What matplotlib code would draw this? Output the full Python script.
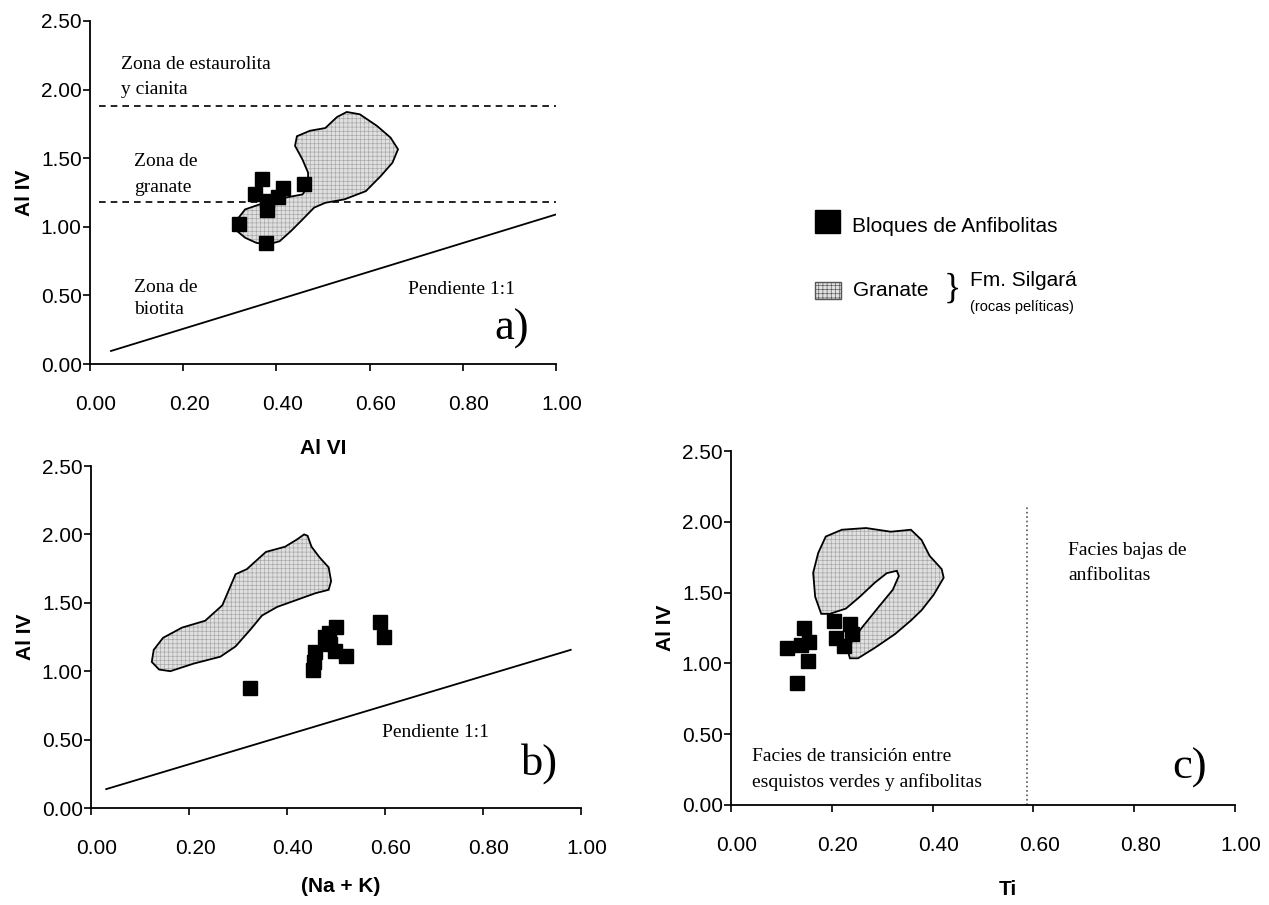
import matplotlib.pyplot as plt
from matplotlib.patches import Polygon, Rectangle
from matplotlib.transforms import ScaledTranslation

plt.rcParams['font.family'] = ['Liberation Sans', 'DejaVu Sans']
plt.rcParams['hatch.linewidth'] = 0.45

W, H = 1269, 905
SERIF = ['Liberation Serif', 'DejaVu Serif']

# --- a) Al IV vs Al VI ---
a_x = [0.320, 0.377, 0.370, 0.354, 0.379, 0.379, 0.415, 0.404, 0.459]
a_y = [1.02, 0.88, 1.35, 1.24, 1.19, 1.12, 1.28, 1.22, 1.31]
a_granate = [(0.551, 1.837), (0.579, 1.82), (0.616, 1.735), (0.645, 1.65),
             (0.661, 1.565), (0.649, 1.467), (0.624, 1.37), (0.592, 1.26),
             (0.546, 1.20), (0.505, 1.175), (0.481, 1.14), (0.456, 1.053),
             (0.431, 0.968), (0.407, 0.895), (0.382, 0.871), (0.357, 0.883),
             (0.333, 0.92), (0.316, 0.968), (0.315, 1.05), (0.333, 1.127),
             (0.374, 1.175), (0.415, 1.21), (0.456, 1.236), (0.468, 1.297),
             (0.468, 1.394), (0.456, 1.49), (0.44, 1.59), (0.444, 1.66),
             (0.472, 1.70), (0.505, 1.72), (0.530, 1.80)]
a_zonas = [1.88, 1.18]
a_pendiente_x = [0.045, 1.0]
a_pendiente_y = [0.095, 1.09]

# --- b) Al IV vs (Na + K) ---
b_x = [0.325, 0.453, 0.455, 0.457, 0.478, 0.485, 0.500, 0.487, 0.497, 0.520, 0.590, 0.598]
b_y = [0.875, 1.01, 1.07, 1.14, 1.25, 1.28, 1.32, 1.20, 1.15, 1.11, 1.36, 1.25]
b_granate = [(0.128, 1.156), (0.147, 1.244), (0.186, 1.319), (0.233, 1.369),
             (0.268, 1.482), (0.283, 1.608), (0.295, 1.709), (0.318, 1.746),
             (0.357, 1.872), (0.396, 1.91), (0.419, 1.96), (0.435, 2.0),
             (0.442, 1.99), (0.45, 1.91), (0.466, 1.834), (0.485, 1.759),
             (0.49, 1.658), (0.485, 1.595), (0.458, 1.57), (0.419, 1.52),
             (0.38, 1.47), (0.349, 1.407), (0.326, 1.307), (0.295, 1.181),
             (0.264, 1.106), (0.209, 1.055), (0.162, 1.0), (0.139, 1.012),
             (0.124, 1.068)]
b_pendiente_x = [0.031, 0.979]
b_pendiente_y = [0.138, 1.156]

# --- c) Al IV vs Ti ---
c_x = [0.112, 0.145, 0.155, 0.152, 0.130, 0.138, 0.204, 0.236, 0.208, 0.224, 0.240]
c_y = [1.11, 1.25, 1.15, 1.02, 0.86, 1.13, 1.30, 1.28, 1.18, 1.12, 1.21]
c_granate = [(0.179, 1.35), (0.167, 1.47), (0.163, 1.64), (0.173, 1.78),
             (0.188, 1.896), (0.22, 1.944), (0.268, 1.956), (0.317, 1.93),
             (0.357, 1.944), (0.378, 1.872), (0.394, 1.76), (0.418, 1.666),
             (0.422, 1.605), (0.402, 1.484), (0.378, 1.375), (0.357, 1.303),
             (0.325, 1.206), (0.285, 1.109), (0.252, 1.036), (0.236, 1.036),
             (0.232, 1.085), (0.24, 1.157), (0.26, 1.254), (0.293, 1.399),
             (0.321, 1.52), (0.333, 1.617), (0.329, 1.654), (0.309, 1.637),
             (0.285, 1.569), (0.256, 1.472), (0.228, 1.387), (0.196, 1.35)]
c_limite = 0.588

ticks_x = [0.0, 0.2, 0.4, 0.6, 0.8, 1.0]
ticks_y = [0.0, 0.5, 1.0, 1.5, 2.0, 2.5]


def box(px_left, px_top, px_right, px_bottom):
    return [px_left / W, 1 - px_bottom / H, (px_right - px_left) / W, (px_bottom - px_top) / H]


def base_axes(ax, xlabel, label_x=0.5, label_pad=18):
    ax.set_xlim(0, 1)
    ax.set_ylim(0, 2.5)
    ax.set_xticks(ticks_x)
    ax.set_yticks(ticks_y)
    ax.set_xticklabels(['%.2f' % t for t in ticks_x])
    ax.set_yticklabels(['%.2f' % t for t in ticks_y])
    for s in ['top', 'right']:
        ax.spines[s].set_visible(False)
    for s in ['left', 'bottom']:
        ax.spines[s].set_linewidth(1.3)
    ax.tick_params(axis='both', direction='out', length=5, width=1.2, labelsize=15)
    ax.tick_params(axis='y', pad=1)
    ax.tick_params(axis='x', pad=17)
    # x tick labels sit a little to the right of their ticks
    shift = ScaledTranslation(0.06, 0, fig.dpi_scale_trans)
    for lab in ax.get_xticklabels():
        lab.set_transform(lab.get_transform() + shift)
    ax.set_ylabel('Al IV', fontsize=15, fontweight='bold', labelpad=5)
    ax.set_xlabel(xlabel, fontsize=15, fontweight='bold', labelpad=label_pad)
    ax.xaxis.label.set_x(label_x)


def granate(ax, pts):
    ax.add_patch(Polygon(pts, closed=True, facecolor='#e0e0e0', edgecolor='none', zorder=2))
    ax.add_patch(Polygon(pts, closed=True, fill=False, hatch='++++', edgecolor='#a5a5a5',
                         linewidth=0, zorder=2))
    ax.add_patch(Polygon(pts, closed=True, fill=False, edgecolor='black', linewidth=1.3, zorder=3))


def bloques(ax, x, y):
    ax.plot(x, y, 's', color='black', markersize=10.5, linestyle='none', zorder=4)


fig = plt.figure(figsize=(W / 100, H / 100), dpi=100)

# a)
ax = fig.add_axes(box(90, 21, 556, 364))
base_axes(ax, 'Al VI')
for z in a_zonas:
    ax.plot([0.02, 1.0], [z, z], color='black', linestyle=(0, (4, 3)), linewidth=1.2)
ax.plot(a_pendiente_x, a_pendiente_y, color='black', linewidth=1.3)
granate(ax, a_granate)
bloques(ax, a_x, a_y)
ax.text(0.066, 2.185, 'Zona de estaurolita', family=SERIF, fontsize=14, va='center')
ax.text(0.066, 2.00, 'y cianita', family=SERIF, fontsize=14, va='center')
ax.text(0.094, 1.474, 'Zona de', family=SERIF, fontsize=14, va='center')
ax.text(0.094, 1.29, 'granate', family=SERIF, fontsize=14, va='center')
ax.text(0.094, 0.56, 'Zona de', family=SERIF, fontsize=14, va='center')
ax.text(0.094, 0.40, 'biotita', family=SERIF, fontsize=14, va='center')
ax.text(0.682, 0.54, 'Pendiente 1:1', family=SERIF, fontsize=14, va='center')
ax.text(0.867, 0.26, 'a)', family=SERIF, fontsize=32, va='center')

# b)
ax = fig.add_axes(box(91, 466, 581, 808))
base_axes(ax, '(Na + K)', label_x=0.51, label_pad=14)
ax.plot(b_pendiente_x, b_pendiente_y, color='black', linewidth=1.3)
granate(ax, b_granate)
bloques(ax, b_x, b_y)
ax.text(0.594, 0.553, 'Pendiente 1:1', family=SERIF, fontsize=14, va='center')
ax.text(0.878, 0.327, 'b)', family=SERIF, fontsize=32, va='center')

# c)
ax = fig.add_axes(box(731, 451, 1235, 805))
base_axes(ax, 'Ti', label_x=0.55)
ax.plot([c_limite, c_limite], [0, 2.11], color='#555555', linestyle=':', linewidth=1.2)
granate(ax, c_granate)
bloques(ax, c_x, c_y)
ax.text(0.669, 1.80, 'Facies bajas de', family=SERIF, fontsize=14, va='center')
ax.text(0.669, 1.62, 'anfibolitas', family=SERIF, fontsize=14, va='center')
ax.text(0.042, 0.346, 'Facies de transición entre', family=SERIF, fontsize=14, va='center')
ax.text(0.042, 0.165, 'esquistos verdes y anfibolitas', family=SERIF, fontsize=14, va='center')
ax.text(0.875, 0.26, 'c)', family=SERIF, fontsize=32, va='center')

# legend
fig.patches.append(Rectangle((815 / W, 1 - 233 / H), 25 / W, 23 / H, transform=fig.transFigure,
                             facecolor='black', edgecolor='black', figure=fig))
fig.patches.append(Rectangle((815 / W, 1 - 299 / H), 26 / W, 17 / H, transform=fig.transFigure,
                             facecolor='#e0e0e0', edgecolor='#555555', hatch='++++', figure=fig))
fig.text(852 / W, 1 - 226 / H, 'Bloques de Anfibolitas', fontsize=15, va='center')
fig.text(853 / W, 1 - 290 / H, 'Granate', fontsize=15, va='center')
fig.text(944 / W, 1 - 289 / H, '}', fontsize=26, va='center', family=SERIF)
fig.text(970 / W, 1 - 280 / H, 'Fm. Silgará', fontsize=15, va='center')
fig.text(970 / W, 1 - 307 / H, '(rocas pelíticas)', fontsize=10.5, va='center')

fig.savefig('out.png', dpi=100)
